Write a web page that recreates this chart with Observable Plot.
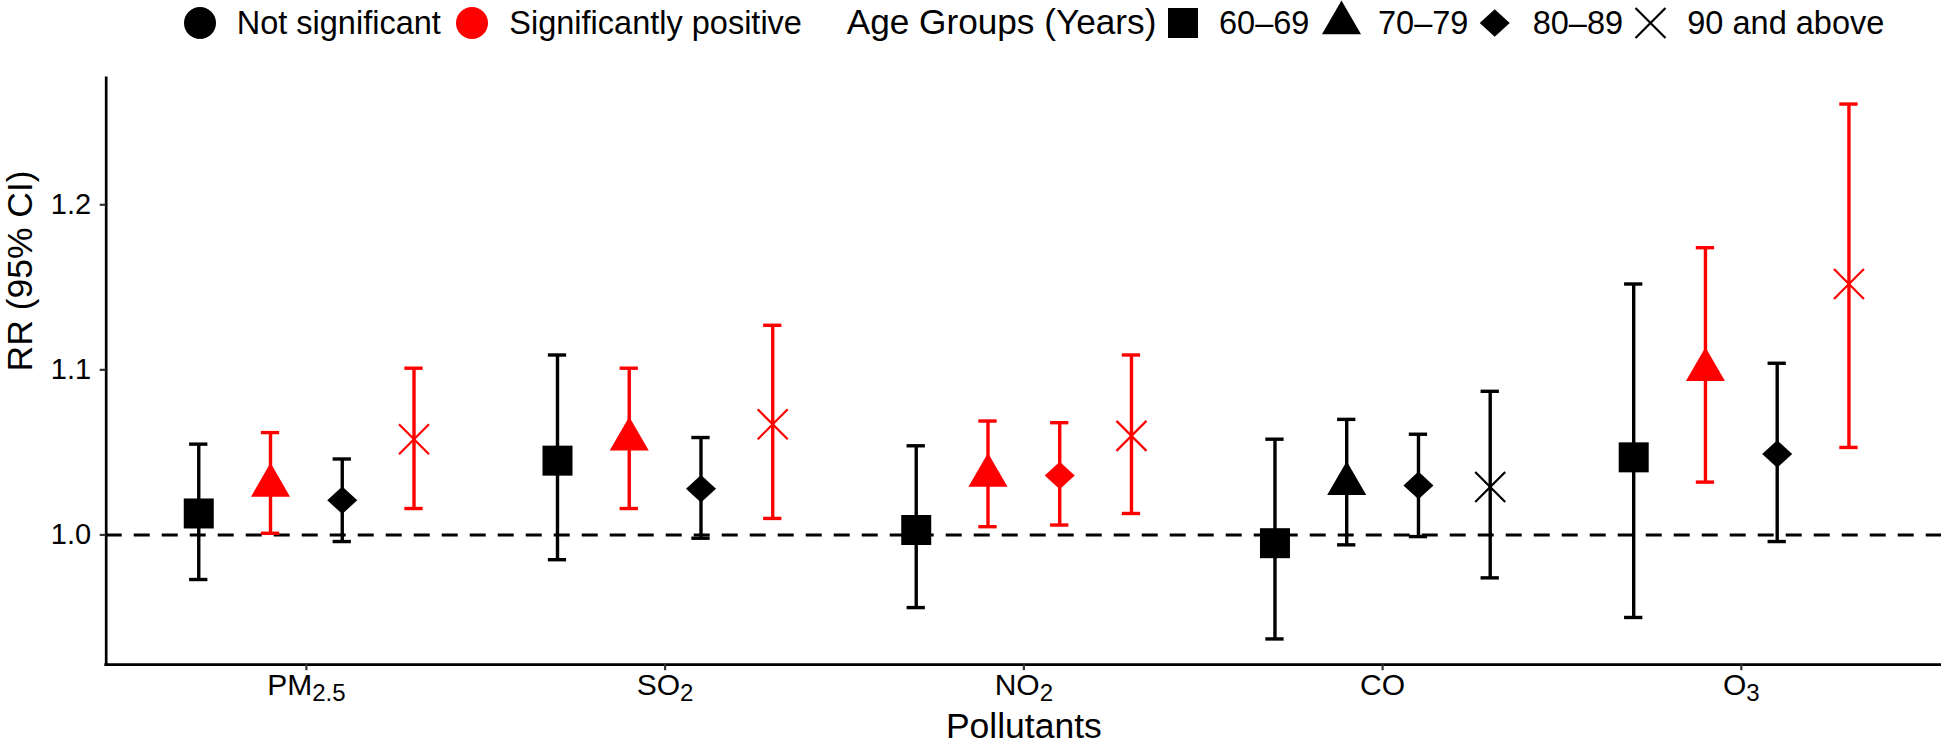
<!DOCTYPE html>
<html>
<head>
<meta charset="utf-8">
<script src="https://cdn.jsdelivr.net/npm/d3@7"></script>
<script src="https://cdn.jsdelivr.net/npm/@observablehq/plot@0.6"></script>
<style>
  html, body { margin: 0; padding: 0; background: #fff; }
  #legend svg, #chart svg { display: block; }
</style>
</head>
<body>
<div id="legend"></div>
<div id="chart"></div>
<script>
// ---------- data ----------
const pollutants = ["PM2.5", "SO2", "NO2", "CO", "O3"];
const pollutantBase = ["PM", "SO", "NO", "CO", "O"];
const pollutantSub = ["2.5", "2", "2", "", "3"];
const ageGroups = ["60–69", "70–79", "80–89", "90 and above"];
const sigLevels = ["Not significant", "Significantly positive"];
const yTicks = [1.0, 1.1, 1.2];

const rr_60_69 = [1.013, 1.045, 1.003, 0.995, 1.047];
const lo_60_69 = [0.973, 0.985, 0.956, 0.937, 0.950];
const hi_60_69 = [1.055, 1.109, 1.054, 1.058, 1.152];
const sig_60_69 = [0, 0, 0, 0, 0];

const rr_70_79 = [1.030, 1.058, 1.036, 1.031, 1.100];
const lo_70_79 = [1.001, 1.016, 1.005, 0.994, 1.032];
const hi_70_79 = [1.062, 1.101, 1.069, 1.070, 1.174];
const sig_70_79 = [1, 1, 1, 0, 1];

const rr_80_89 = [1.021, 1.028, 1.036, 1.030, 1.049];
const lo_80_89 = [0.996, 0.998, 1.006, 0.999, 0.996];
const hi_80_89 = [1.046, 1.059, 1.068, 1.061, 1.104];
const sig_80_89 = [0, 0, 1, 0, 0];

const rr_90plus = [1.058, 1.067, 1.060, 1.029, 1.152];
const lo_90plus = [1.016, 1.010, 1.013, 0.974, 1.053];
const hi_90plus = [1.101, 1.127, 1.109, 1.087, 1.261];
const sig_90plus = [1, 1, 1, 0, 1];

// ---------- table ----------
const rrByAge = [rr_60_69, rr_70_79, rr_80_89, rr_90plus];
const loByAge = [lo_60_69, lo_70_79, lo_80_89, lo_90plus];
const hiByAge = [hi_60_69, hi_70_79, hi_80_89, hi_90plus];
const sigByAge = [sig_60_69, sig_70_79, sig_80_89, sig_90plus];

const rows = [];
ageGroups.forEach((age, j) => pollutants.forEach((p, i) => rows.push({
  pollutant: p, age,
  rr: rrByAge[j][i], lo: loByAge[j][i], hi: hiByAge[j][i],
  sig: sigLevels[sigByAge[j][i]]
})));

// position_dodge(width = 0.8) on a discrete axis
const dodgeWidth = 0.8;
const xpos = d => pollutants.indexOf(d.pollutant) + 1 +
  (ageGroups.indexOf(d.age) - (ageGroups.length - 1) / 2) * dodgeWidth / ageGroups.length;
const capHalf = 0.0255;
const xExpand = 0.558;
const yDomain = [0.9214, 1.2766];

// ---------- symbols ----------
const diamondSym = {draw(ctx, size) {
  const r = Math.sqrt(size / Math.PI), hy = r * 0.92;
  ctx.moveTo(0, -hy); ctx.lineTo(r, 0); ctx.lineTo(0, hy); ctx.lineTo(-r, 0); ctx.closePath();
}};
const crossSym = {draw(ctx, size) {
  const r = Math.sqrt(size / Math.PI);
  ctx.moveTo(-r, -r); ctx.lineTo(r, r); ctx.moveTo(r, -r); ctx.lineTo(-r, r);
}};
const ageSymbols = [
  {symbol: "square", d3sym: d3.symbolSquare, r: 16.93, filled: true},
  {symbol: "triangle", d3sym: d3.symbolTriangle, r: 14.5, filled: true},
  {symbol: diamondSym, d3sym: diamondSym, r: 15, filled: true},
  {symbol: crossSym, d3sym: crossSym, r: 15, filled: false}
];
const sigColors = ["black", "red"];
const FONT = "'Liberation Sans', Arial, Helvetica, sans-serif";

// ---------- legend ----------
const legendLayout = [
  {kind: "circle", color: sigColors[0], cx: 200},
  {kind: "text", label: sigLevels[0], x: 236.7},
  {kind: "circle", color: sigColors[1], cx: 472},
  {kind: "text", label: sigLevels[1], x: 509.3},
  {kind: "title", label: "Age Groups (Years)", x: 846.7},
  {kind: "sym", j: 0, cx: 1183},
  {kind: "text", label: ageGroups[0], x: 1219},
  {kind: "sym", j: 1, cx: 1341.5},
  {kind: "text", label: ageGroups[1], x: 1378},
  {kind: "sym", j: 2, cx: 1494.7},
  {kind: "text", label: ageGroups[2], x: 1532.7},
  {kind: "sym", j: 3, cx: 1650.5},
  {kind: "text", label: ageGroups[3], x: 1687.3}
];
const leg = d3.create("svg").attr("width", 1941).attr("height", 46)
  .style("font-family", FONT);
const cy = 23, baseline = 34.3;
for (const it of legendLayout) {
  if (it.kind === "circle") {
    leg.append("circle").attr("cx", it.cx).attr("cy", cy).attr("r", 16).attr("fill", it.color);
  } else if (it.kind === "sym") {
    const s = ageSymbols[it.j];
    const p = leg.append("path")
      .attr("transform", `translate(${it.cx},${cy})`)
      .attr("d", d3.symbol(s.d3sym, Math.PI * s.r * s.r)());
    if (s.filled) p.attr("fill", "black");
    else p.attr("fill", "none").attr("stroke", "black").attr("stroke-width", 2.2);
  } else {
    leg.append("text").attr("x", it.x).attr("y", baseline)
      .attr("font-size", it.kind === "title" ? 35.2 : 32.5)
      .attr("fill", "black").text(it.label);
  }
}
document.getElementById("legend").append(leg.node());

// ---------- plot ----------
const chart = Plot.plot({
  width: 1941,
  height: 700,
  marginTop: 31.8,
  marginBottom: 81.8,
  marginLeft: 105.7,
  marginRight: 0,
  style: {fontFamily: FONT, color: "black", background: "white", overflow: "visible"},
  x: {domain: [1 - xExpand, pollutants.length + xExpand]},
  y: {domain: yDomain},
  color: {domain: sigLevels, range: sigColors},
  marks: [
    Plot.ruleY([1], {stroke: "black", strokeWidth: 3, strokeDasharray: "16,12"}),
    // error bars
    Plot.ruleX(rows, {x: xpos, y1: "lo", y2: "hi", stroke: "sig", strokeWidth: 3.4}),
    Plot.ruleY(rows, {y: "lo", x1: d => xpos(d) - capHalf, x2: d => xpos(d) + capHalf, stroke: "sig", strokeWidth: 3.4}),
    Plot.ruleY(rows, {y: "hi", x1: d => xpos(d) - capHalf, x2: d => xpos(d) + capHalf, stroke: "sig", strokeWidth: 3.4}),
    // points
    ...ageGroups.map((age, j) => {
      const s = ageSymbols[j];
      return Plot.dot(rows.filter(d => d.age === age), {
        x: xpos, y: "rr", symbol: s.symbol, r: s.r,
        ...(s.filled ? {fill: "sig", stroke: "none"} : {fill: "none", stroke: "sig", strokeWidth: 2.2})
      });
    }),
    // axes
    Plot.ruleX([1 - xExpand], {stroke: "black", strokeWidth: 2.7, strokeLinecap: "square"}),
    Plot.ruleY([yDomain[0]], {stroke: "black", strokeWidth: 2.7, strokeLinecap: "square"}),
    Plot.axisY({ticks: yTicks, tickFormat: d => d.toFixed(1), tickSize: 6, tickPadding: 9,
      fontSize: 29, label: null, stroke: "#333", strokeWidth: 2.2}),
    Plot.axisX({ticks: pollutants.map((p, i) => i + 1), tickFormat: i => pollutants[i - 1],
      tickSize: 6, tickPadding: 3, fontSize: 30, label: null, stroke: "#333", strokeWidth: 2.2}),
    Plot.text(["RR (95% CI)"], {frameAnchor: "left", text: d => d, rotate: -90, dx: -86,
      lineAnchor: "middle", fontSize: 35.5, fill: "black"}),
    Plot.text(["Pollutants"], {frameAnchor: "bottom", text: d => d, dy: 48.5,
      lineAnchor: "top", fontSize: 35.5, fill: "black"})
  ]
});
document.getElementById("chart").append(chart);

// subscripts in the pollutant tick labels
d3.select(chart).selectAll('g[aria-label="x-axis tick label"] text').each(function(_, k) {
  const t = d3.select(this);
  const base = pollutantBase[k], sub = pollutantSub[k];
  t.text(null);
  t.append("tspan").text(base);
  if (sub) t.append("tspan").attr("dy", 6.5).attr("font-size", 24).text(sub);
});
</script>
</body>
</html>
